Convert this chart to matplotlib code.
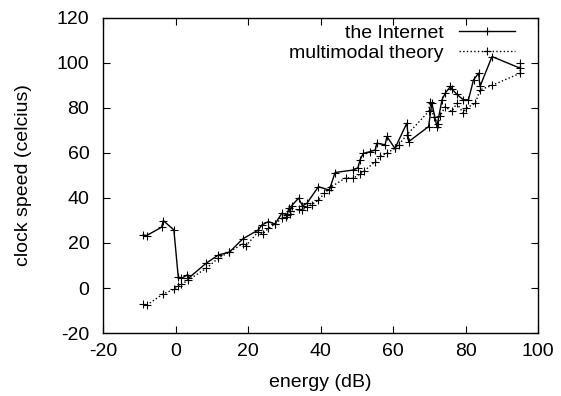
import matplotlib
matplotlib.use("Agg")
import matplotlib.pyplot as plt

plt.rcParams['font.family'] = ['Liberation Sans', 'DejaVu Sans']
plt.rcParams['font.size'] = 14
plt.rcParams['axes.unicode_minus'] = False

# the Internet (solid)
inet_x = [-9.0, -8.0, -3.9, -3.4, -0.5, 0.7, 1.6, 3.2, 3.5, 8.4, 11.8, 14.8, 18.5,
          22.8, 23.8, 25.6, 27.4, 29.3, 30.8, 31.2, 31.6, 32.0, 33.9, 35.0, 36.2,
          39.4, 42.4, 44.0, 49.0, 50.3, 50.9, 51.8, 53.5, 55.1, 55.5, 57.8, 58.3,
          60.5, 63.8, 64.3, 69.8, 70.7, 72.1, 73.5, 74.4, 75.8, 76.2, 77.6, 79.4,
          80.8, 82.2, 83.6, 84.0, 87.3, 95.1]
inet_y = [23.5, 23.3, 27.0, 29.9, 25.8, 5.0, 4.3, 5.8, 4.3, 11.0, 14.7, 15.9, 21.8,
          25.8, 28.0, 29.5, 28.4, 33.2, 32.5, 35.5, 34.0, 36.5, 39.9, 36.5, 37.6,
          45.0, 43.5, 51.3, 52.4, 53.4, 57.0, 59.8, 60.5, 61.3, 64.3, 63.6, 67.3,
          62.0, 73.2, 65.0, 71.7, 82.1, 71.7, 83.6, 86.5, 89.5, 88.5, 86.0, 83.6,
          83.6, 92.4, 95.4, 89.5, 102.8, 97.6]

# multimodal theory (dotted)
theory_x = [-9.0, -8.0, -3.6, -0.5, 0.7, 1.6, 3.5, 8.4, 11.8, 14.8, 18.5, 19.3,
            22.8, 24.0, 25.6, 27.4, 29.3, 30.5, 31.6, 33.9, 35.0, 36.2, 37.5, 39.4,
            41.0, 43.0, 47.0, 49.0, 51.0, 52.0, 55.0, 56.5, 58.3, 60.5, 61.5, 63.8,
            69.8, 70.2, 71.2, 72.5, 73.0, 74.4, 76.2, 77.6, 79.4, 80.2, 82.7, 84.0,
            87.3, 95.1, 95.1]
theory_y = [-7.3, -7.6, -2.8, -0.6, 0.9, 1.6, 3.6, 8.7, 13.3, 16.0, 19.6, 18.6,
            25.0, 24.0, 26.5, 28.4, 31.0, 31.5, 33.0, 35.0, 34.7, 36.0, 37.0, 39.0,
            42.0, 45.0, 49.0, 48.7, 50.8, 52.0, 56.0, 58.5, 60.0, 62.0, 63.5, 68.0,
            78.4, 82.8, 76.0, 73.0, 76.5, 80.5, 78.4, 82.0, 77.6, 80.0, 82.0, 88.0,
            90.0, 95.4, 100.0]

fig = plt.figure(figsize=(5.61, 3.96), dpi=100)
ax = fig.add_axes([0.184, 0.159, 0.775, 0.796])

ax.plot(inet_x, inet_y, color='black', lw=1, marker='+', ms=6, mew=0.8,
        label='the Internet')
ax.plot(theory_x, theory_y, color='black', lw=1, ls=':', marker='+', ms=6, mew=0.8,
        label='multimodal theory')

ax.set_xlim(-20, 100)
ax.set_ylim(-20, 120)
ax.set_xticks(range(-20, 101, 20))
ax.set_yticks(range(-20, 121, 20))
ax.tick_params(direction='in', top=True, right=True, length=5, width=0.8)
ax.tick_params(axis='x', pad=7)
ax.tick_params(axis='y', pad=10)
for s in ax.spines.values():
    s.set_linewidth(1)

ax.set_xlabel('energy (dB)', labelpad=10)
ax.set_ylabel('clock speed (celcius)', labelpad=18)

ax.legend(loc='upper right', bbox_to_anchor=(0.947, 0.979), frameon=False,
          markerfirst=False, handlelength=2.9, labelspacing=0.12, handletextpad=0.75,
          borderaxespad=0, borderpad=0)

fig.savefig('out.png', dpi=100)
